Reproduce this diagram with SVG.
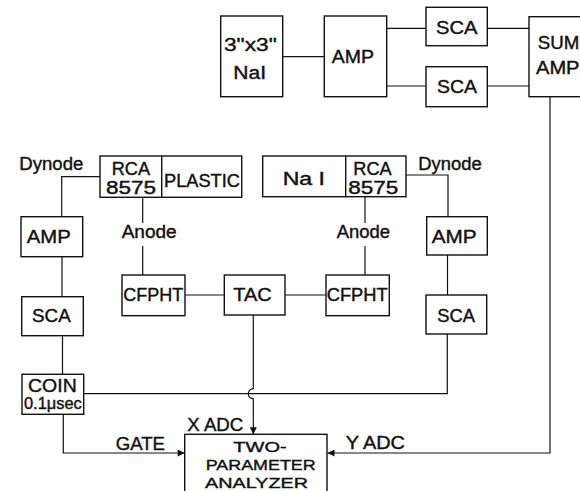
<svg xmlns="http://www.w3.org/2000/svg" width="580" height="491" viewBox="0 0 580 491">
<style>
  rect.box { fill: #fff; stroke: #111; stroke-width: 1.4; }
  .wire { fill: none; stroke: #111; stroke-width: 1.2; }
  text { font-family: "Liberation Sans", Arial, sans-serif; font-size: 18px; fill: #111; stroke: #111; stroke-width: 0.4; }
  .sm { font-size: 16px; }
  .an { font-size: 15.5px; }
</style>
<defs>
  <marker id="arr" viewBox="0 0 10 10" refX="10" refY="5" markerWidth="9" markerHeight="7" markerUnits="userSpaceOnUse" orient="auto">
    <path d="M0,0 L10,5 L0,10 z" fill="#111"/>
  </marker>
</defs>
<rect width="580" height="491" fill="#fff" stroke="none"/>

<g id="connectors">
  <path class="wire" d="M282.7,56.7 H324.3"/>
  <path class="wire" d="M386.7,28.3 H426"/>
  <path class="wire" d="M386.7,86 H426"/>
  <path class="wire" d="M487.3,28.3 H529"/>
  <path class="wire" d="M487.3,86 H529"/>
  <path class="wire" d="M550,96.7 V453 H327.5" marker-end="url(#arr)"/>
  <path class="wire" d="M100,176.7 H61.7 V216.7"/>
  <path class="wire" d="M62,256.7 V296.7"/>
  <path class="wire" d="M62.5,335.7 V374.3"/>
  <path class="wire" d="M63.3,414.3 V453 H184.7" marker-end="url(#arr)"/>
  <path class="wire" d="M142.7,197.3 V223"/>
  <path class="wire" d="M142.7,246 V275"/>
  <path class="wire" d="M365,196.7 V223"/>
  <path class="wire" d="M365,246 V275"/>
  <path class="wire" d="M406,175 H448 V216.7"/>
  <path class="wire" d="M447.5,255 V295"/>
  <path class="wire" d="M447.3,334 V393.7 H83.7"/>
  <path class="wire" d="M185,295 H224.3"/>
  <path class="wire" d="M285,295 H326"/>
  <path class="wire" d="M253.3,315 V388.7 A5,5 0 0 0 253.3,398.7 V434.3" marker-end="url(#arr)"/>
</g>

<g id="nai3x3">
  <rect class="box" x="220.7" y="16" width="62" height="80.7"/>
  <text x="224" y="50.7" textLength="52.7" lengthAdjust="spacingAndGlyphs" style="font-size:19px">3"x3"</text>
  <text x="233.3" y="79.3" textLength="32.7" lengthAdjust="spacingAndGlyphs">NaI</text>
</g>
<g id="amp-top">
  <rect class="box" x="324.3" y="16" width="62.4" height="80.7"/>
  <text x="331.7" y="62.7" textLength="42.3" lengthAdjust="spacingAndGlyphs">AMP</text>
</g>
<g id="sca-top1">
  <rect class="box" x="426" y="7.3" width="61.3" height="38.4"/>
  <text x="436" y="34" textLength="41.3" lengthAdjust="spacingAndGlyphs">SCA</text>
</g>
<g id="sca-top2">
  <rect class="box" x="426" y="66.7" width="61.3" height="40"/>
  <text x="437" y="93.3" textLength="40" lengthAdjust="spacingAndGlyphs">SCA</text>
</g>
<g id="sum-amp">
  <rect class="box" x="529" y="16.7" width="70" height="80"/>
  <text x="537.7" y="49.3" textLength="41.5" lengthAdjust="spacingAndGlyphs">SUM</text>
  <text x="536" y="74" textLength="43.5" lengthAdjust="spacingAndGlyphs">AMP</text>
</g>

<g id="dynode-left-label">
  <text x="19.3" y="170" textLength="64" lengthAdjust="spacingAndGlyphs">Dynode</text>
</g>
<g id="rca-left">
  <rect class="box" x="100" y="156" width="61.7" height="41.3"/>
  <text x="111.7" y="175" textLength="38.3" lengthAdjust="spacingAndGlyphs">RCA</text>
  <text x="106" y="194" textLength="50" lengthAdjust="spacingAndGlyphs">8575</text>
</g>
<g id="plastic">
  <rect class="box" x="161.7" y="156" width="80" height="41.3"/>
  <text x="164" y="187.3" textLength="76" lengthAdjust="spacingAndGlyphs">PLASTIC</text>
</g>
<g id="nai-right">
  <rect class="box" x="262.7" y="156" width="83" height="40.7"/>
  <text x="282.7" y="185" textLength="42.3" lengthAdjust="spacingAndGlyphs">Na I</text>
</g>
<g id="rca-right">
  <rect class="box" x="345.7" y="156" width="60.3" height="40.7"/>
  <text x="353.3" y="175" textLength="38.4" lengthAdjust="spacingAndGlyphs">RCA</text>
  <text x="348.3" y="194" textLength="50" lengthAdjust="spacingAndGlyphs">8575</text>
</g>
<g id="dynode-right-label">
  <text x="418.3" y="170" textLength="63.4" lengthAdjust="spacingAndGlyphs">Dynode</text>
</g>

<g id="amp-left">
  <rect class="box" x="21" y="216.7" width="61.7" height="40"/>
  <text x="26.7" y="243.3" textLength="44" lengthAdjust="spacingAndGlyphs">AMP</text>
</g>
<g id="anode-left-label">
  <text x="121.7" y="238.3" textLength="55" lengthAdjust="spacingAndGlyphs">Anode</text>
</g>
<g id="anode-right-label">
  <text x="336.7" y="238.3" textLength="53.3" lengthAdjust="spacingAndGlyphs">Anode</text>
</g>
<g id="amp-right">
  <rect class="box" x="426.7" y="216.7" width="60.6" height="38.3"/>
  <text x="431.7" y="243.3" textLength="45" lengthAdjust="spacingAndGlyphs">AMP</text>
</g>

<g id="cfpht-left">
  <rect class="box" x="122" y="275" width="63" height="40.7"/>
  <text x="123.3" y="301" textLength="60" lengthAdjust="spacingAndGlyphs">CFPHT</text>
</g>
<g id="tac">
  <rect class="box" x="224.3" y="275" width="60.7" height="40"/>
  <text x="233.3" y="301" textLength="38.4" lengthAdjust="spacingAndGlyphs">TAC</text>
</g>
<g id="cfpht-right">
  <rect class="box" x="326" y="275" width="63.3" height="40.7"/>
  <text x="326.7" y="301" textLength="61" lengthAdjust="spacingAndGlyphs">CFPHT</text>
</g>

<g id="sca-left">
  <rect class="box" x="21.7" y="296.7" width="61.6" height="39"/>
  <text x="32" y="322" textLength="38.7" lengthAdjust="spacingAndGlyphs">SCA</text>
</g>
<g id="sca-right">
  <rect class="box" x="426" y="295" width="60.7" height="39"/>
  <text x="437.3" y="321.7" textLength="37.7" lengthAdjust="spacingAndGlyphs">SCA</text>
</g>

<g id="coin">
  <rect class="box" x="22" y="374.3" width="61.7" height="40"/>
  <text x="28" y="391.7" textLength="48.7" lengthAdjust="spacingAndGlyphs">COIN</text>
  <text class="sm" x="24" y="409" textLength="57.7" lengthAdjust="spacingAndGlyphs">0.1μsec</text>
</g>

<g id="labels">
  <text x="115.7" y="450" textLength="49.3" lengthAdjust="spacingAndGlyphs">GATE</text>
  <text x="187.3" y="431" textLength="56" lengthAdjust="spacingAndGlyphs">X ADC</text>
  <text x="345.7" y="448.5" textLength="59.3" lengthAdjust="spacingAndGlyphs">Y ADC</text>
</g>

<g id="analyzer">
  <rect class="box" x="184.7" y="434.3" width="142.3" height="70"/>
  <text class="an" x="233.3" y="451.5" textLength="53.4" lengthAdjust="spacingAndGlyphs">TWO-</text>
  <text class="an" x="205.7" y="469.5" textLength="110" lengthAdjust="spacingAndGlyphs">PARAMETER</text>
  <text class="an" x="205" y="487.5" textLength="103" lengthAdjust="spacingAndGlyphs">ANALYZER</text>
</g>
</svg>
